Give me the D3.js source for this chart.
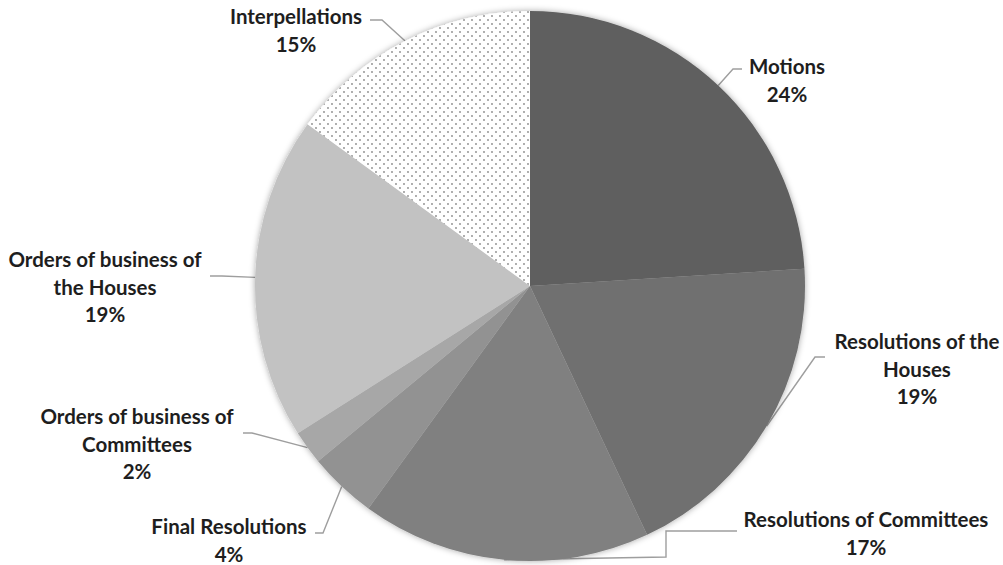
<!DOCTYPE html>
<html>
<head>
<meta charset="utf-8">
<script src="https://cdn.jsdelivr.net/npm/d3@7"></script>
<style>
  html, body { margin: 0; padding: 0; background: #fff; }
  svg { display: block; }
  text { font-family: Lato, "Open Sans", sans-serif; font-weight: 700; fill: #1e1e1e; }
</style>
</head>
<body>
<svg id="chart" width="1003" height="565"></svg>
<script>
// ---- data ----
const categories = [
  "Motions",
  "Resolutions of the Houses",
  "Resolutions of Committees",
  "Final Resolutions",
  "Orders of business of Committees",
  "Orders of business of the Houses",
  "Interpellations"
];
const values = [24, 19, 17, 4, 2, 19, 15];
const labelLines = [
  ["Motions"],
  ["Resolutions of the", "Houses"],
  ["Resolutions of Committees"],
  ["Final Resolutions"],
  ["Orders of business of", "Committees"],
  ["Orders of business of", "the Houses"],
  ["Interpellations"]
];

// ---- layout / style ----
const fills = ["#5e5e5e", "#6f6f6f", "#808080", "#929292", "#a7a7a7", "#c2c2c2", "url(#dots)"];
const cx = 530, cy = 286, R = 275;
// label anchors (text centre x, first line centre y) and leader elbow points
const labelLayout = [
  { x: 787, y: 67,  elbow: [[733, 69], [742, 69]] },
  { x: 917, y: 342, elbow: [[815, 357], [825, 357]] },
  { x: 866, y: 520, elbow: [[666, 557], [666, 531], [737, 531]] },
  { x: 229, y: 527, elbow: [[323, 533], [315, 533]] },
  { x: 137, y: 417, elbow: [[252, 433], [243, 433]] },
  { x: 105, y: 260, elbow: [[222, 276], [210, 276]] },
  { x: 296, y: 17,  elbow: [[382, 20], [370, 20]] }
];
const lineH = 27.5;

const svg = d3.select("#chart");
const defs = svg.append("defs");
const pat = defs.append("pattern")
  .attr("id", "dots").attr("patternUnits", "userSpaceOnUse")
  .attr("width", 8).attr("height", 8);
pat.append("rect").attr("width", 8).attr("height", 8).attr("fill", "#fff");
pat.append("circle").attr("cx", 2).attr("cy", 2).attr("r", 0.9).attr("fill", "#8a8a8a");
pat.append("circle").attr("cx", 6).attr("cy", 6).attr("r", 0.9).attr("fill", "#8a8a8a");

const flt = defs.append("filter").attr("id", "glow")
  .attr("x", "-10%").attr("y", "-10%").attr("width", "120%").attr("height", "120%");
flt.append("feDropShadow").attr("dx", 0).attr("dy", 0)
  .attr("stdDeviation", 3).attr("flood-color", "#000").attr("flood-opacity", 0.35);

const data = categories.map((c, i) => ({ name: c, value: values[i], i }));
const pie = d3.pie().value(d => d.value).sort(null);
const arcs = pie(data);
const arc = d3.arc().innerRadius(0).outerRadius(R);
const total = d3.sum(values);
const fmt = d3.format(".0%");

// leader lines (drawn under the pie)
const leaders = svg.append("g");
arcs.forEach((a, k) => {
  const mid = (a.startAngle + a.endAngle) / 2;
  const p0 = [cx + R * Math.sin(mid), cy - R * Math.cos(mid)];
  const pts = [p0].concat(labelLayout[k].elbow);
  leaders.append("path")
    .attr("d", d3.line()(pts))
    .attr("fill", "none")
    .attr("stroke", "#9e9e9e")
    .attr("stroke-width", 1.4);
});

const g = svg.append("g").attr("transform", `translate(${cx},${cy})`);
g.append("g").attr("filter", "url(#glow)")
  .selectAll("path").data(arcs).join("path")
  .attr("d", arc)
  .attr("fill", d => fills[d.data.i]);

// labels
const lg = svg.append("g");
arcs.forEach((a, k) => {
  const L = labelLayout[k];
  const lines = labelLines[k].concat([fmt(a.data.value / total)]);
  const t = lg.append("text").attr("text-anchor", "middle").attr("font-size", 20.5);
  lines.forEach((s, j) => {
    t.append("tspan").attr("x", L.x).attr("y", L.y + j * lineH + 7).text(s);
  });
});
</script>
</body>
</html>
